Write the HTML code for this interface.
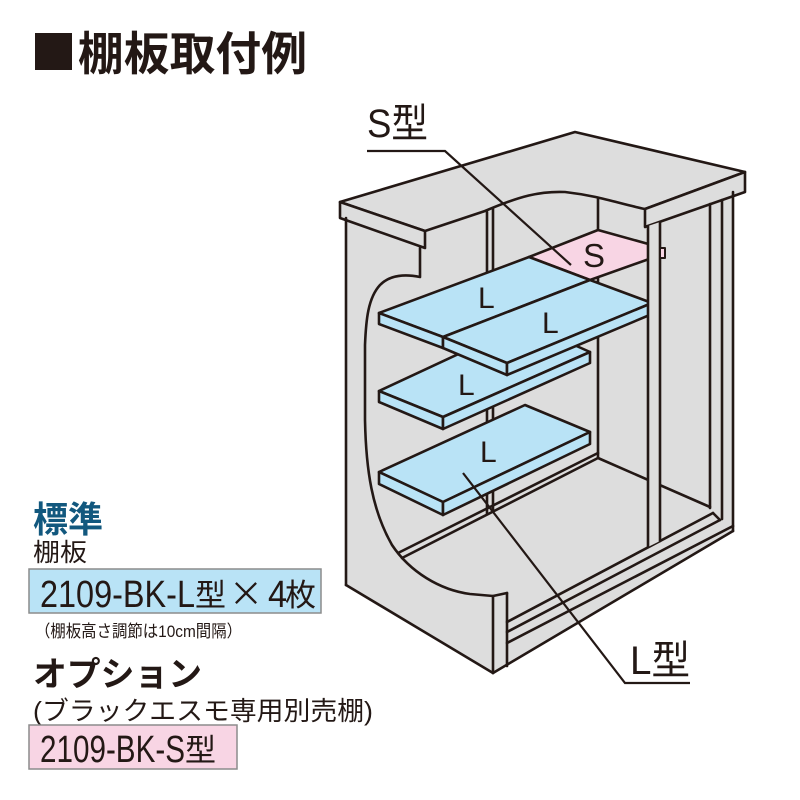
<!DOCTYPE html>
<html><head><meta charset="utf-8"><style>
html,body{margin:0;padding:0;background:#fff;}
svg{display:block;}
text{font-family:"Liberation Sans","Noto Sans CJK JP",sans-serif;fill:#231815;}
</style></head><body>
<svg width="800" height="800" viewBox="0 0 800 800" xmlns="http://www.w3.org/2000/svg">
<rect width="800" height="800" fill="#fff"/>
<!-- title -->
<rect x="35" y="33" width="37" height="37" fill="#231815"/>
<text x="78" y="70" font-size="46" font-weight="600" textLength="229" lengthAdjust="spacingAndGlyphs">棚板取付例</text>

<!-- cabinet silhouette -->
<polygon points="340,202 575,132 745,172 745,192 733,196 733,531 493,673 346,585 346,218 340,218" fill="#dddddd"/>

<g fill="none" stroke="#231815" stroke-width="2.6" stroke-linejoin="round" stroke-linecap="round">
  <!-- roof -->
  <path d="M340,202 L575,132 L745,172 L645,209 C620,204 600,196 565,192 C540,191 520,196 485,211 L425,231 Z" fill="#dddddd"/>
  <polygon points="340,202 425,231 425,248 340,218" fill="#dddddd"/>
  <polygon points="645,209 745,172 745,192 645,227" fill="#dddddd"/>
  <!-- body outline -->
  <line x1="346" y1="218" x2="346" y2="585"/>
  <line x1="346" y1="585" x2="493" y2="673"/>
  <line x1="493" y1="673" x2="733" y2="531"/>
  <line x1="733" y1="192" x2="733" y2="531"/>
  <line x1="493" y1="596" x2="493" y2="673"/>
  <line x1="507" y1="593" x2="507" y2="666"/>
  <!-- cutout curve -->
  <path d="M420,248 L420,277 C405,274 390,275 380,285 C368,298 366,320 365,345 L365,420 C366,470 372,510 392,545 C410,572 440,590 470,594 L493,596 L507,593"/>
  <!-- inner left post -->
  <line x1="487" y1="212" x2="487" y2="514"/>
  <line x1="493" y1="209" x2="493" y2="511"/>
  <!-- back wall -->
  <line x1="598" y1="199" x2="598" y2="458"/>
  <!-- floor lines -->
  <line x1="398" y1="553" x2="598" y2="453"/>
  <line x1="402" y1="558" x2="598" y2="458"/>
  <line x1="598" y1="458" x2="710" y2="507"/>
  <!-- rail -->
  <line x1="507" y1="622" x2="713" y2="513"/>
  <line x1="507" y1="632" x2="720" y2="520"/>
  <line x1="507" y1="643" x2="733" y2="526"/>
  <line x1="713" y1="513" x2="720" y2="520"/>
  <!-- right posts -->
  <line x1="710" y1="204" x2="710" y2="508"/>
  <line x1="722" y1="200" x2="722" y2="519"/>

  <!-- bottom shelf -->
  <polygon points="379,472 525,405 590,432 443,502" fill="#b9e3f6"/>
  <polygon points="379,472 443,502 443,515 379,484" fill="#b9e3f6"/>
  <polygon points="443,502 590,432 590,444 443,515" fill="#b9e3f6"/>
  <!-- middle shelf -->
  <polygon points="379,391 525,323 590,352 443,417" fill="#b9e3f6"/>
  <polygon points="379,391 443,417 443,429 379,402" fill="#b9e3f6"/>
  <polygon points="443,417 590,352 590,363 443,429" fill="#b9e3f6"/>
  <!-- pink S shelf -->
  <polygon points="529,257 598,230 652,245 652,258 590,280" fill="#f8d5e4"/>
  <!-- top L shelves -->
  <polygon points="379,313 529,257 590,280 443,337" fill="#b9e3f6"/>
  <polygon points="379,313 443,337 443,348 379,324" fill="#b9e3f6"/>
  <polygon points="443,337 590,280 652,303 507,363" fill="#b9e3f6"/>
  <polygon points="443,337 507,363 507,375 443,348" fill="#b9e3f6"/>
  <polygon points="507,363 652,303 652,314 507,375" fill="#b9e3f6"/>

  <!-- front right post -->
  <polygon points="648,226 660,222 660,541 648,547" fill="#dddddd" stroke="none"/>
  <line x1="648" y1="226" x2="648" y2="547"/>
  <line x1="660" y1="222" x2="660" y2="541"/>
  <rect x="660" y="248" width="5" height="10" fill="#f8d5e4" stroke-width="2"/>
</g>

<!-- leaders -->
<g fill="none" stroke="#231815" stroke-width="2.2">
  <polyline points="367,151 445,151 571,265"/>
  <polyline points="463,473 625,683 690,683"/>
</g>

<!-- shelf labels -->
<text x="478" y="308" font-size="30">L</text>
<text x="542" y="333" font-size="30">L</text>
<text x="458" y="395" font-size="30">L</text>
<text x="480" y="462" font-size="30">L</text>
<text x="583" y="267" font-size="33">S</text>
<text x="367" y="137" font-size="40" textLength="61" lengthAdjust="spacingAndGlyphs">S型</text>
<text x="630" y="674" font-size="40" textLength="60" lengthAdjust="spacingAndGlyphs">L型</text>

<!-- left text block -->
<text x="33" y="532" font-size="36" font-weight="700" style="fill:#12587e" textLength="70" lengthAdjust="spacingAndGlyphs">標準</text>
<text x="33" y="561" font-size="25" textLength="54" lengthAdjust="spacingAndGlyphs">棚板</text>
<rect x="29" y="569" width="292" height="44" fill="#b9e3f6" stroke="#8c8c8c" stroke-width="1.5"/>
<text x="40" y="607" font-size="38" textLength="155" lengthAdjust="spacingAndGlyphs">2109-BK-L</text>
<text x="195" y="606" font-size="31">型</text>
<text x="229" y="606" font-size="34" style="font-family:'Noto Sans CJK JP',sans-serif">×</text>
<text x="268" y="607" font-size="38" textLength="19" lengthAdjust="spacingAndGlyphs">4</text>
<text x="285" y="606" font-size="31">枚</text>
<text x="35" y="637" font-size="17" textLength="207" lengthAdjust="spacingAndGlyphs">（棚板高さ調節は10cm間隔）</text>
<text x="33" y="686" font-size="34" font-weight="600" textLength="169" lengthAdjust="spacingAndGlyphs">オプション</text>
<text x="33" y="720" font-size="26" textLength="340" lengthAdjust="spacingAndGlyphs">(ブラックエスモ専用別売棚)</text>
<rect x="29" y="725" width="208" height="44" fill="#f8d5e4" stroke="#8c8c8c" stroke-width="1.5"/>
<text x="40" y="762" font-size="38" textLength="145" lengthAdjust="spacingAndGlyphs">2109-BK-S</text>
<text x="185" y="761" font-size="31">型</text>
</svg>
</body></html>
